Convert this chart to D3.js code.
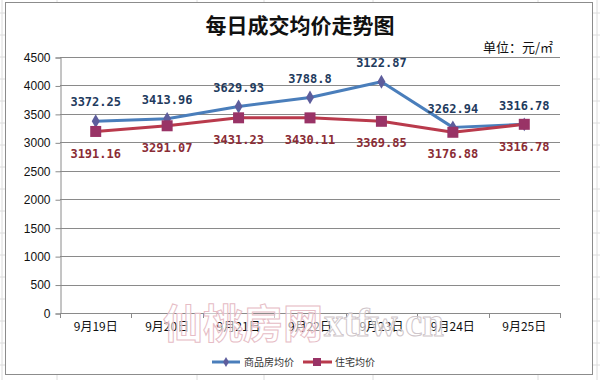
<!DOCTYPE html>
<html><head><meta charset="utf-8">
<script src="https://cdn.jsdelivr.net/npm/d3@7/dist/d3.min.js"></script>
<style>html,body{margin:0;padding:0;background:#fff;}svg{display:block;}</style>
</head><body>
<svg id="chart" width="600" height="380"></svg>
<script>
// ---- data ----
const categories = ["9月19日","9月20日","9月21日","9月22日","9月23日","9月24日","9月25日"];
const seriesNames = ["商品房均价","住宅均价"];
const commercialValues = [3372.25, 3413.96, 3629.93, 3788.8, 4065, 3262.94, 3316.78];
const commercialLabels = ["3372.25","3413.96","3629.93","3788.8","3122.87","3262.94","3316.78"];
const residentialValues = [3191.16, 3291.07, 3431.23, 3430.11, 3369.85, 3176.88, 3316.78];
const residentialLabels = ["3191.16","3291.07","3431.23","3430.11","3369.85","3176.88","3316.78"];
const yTicks = [0,500,1000,1500,2000,2500,3000,3500,4000,4500];
const titleText = "每日成交均价走势图";
const unitText = "单位：元/㎡";

// ---- drawing ----
const svg = d3.select("#chart");
const W = 600, H = 380;

// spreadsheet cell grid behind chart
const bg = svg.append("g");
d3.range(13, H, 22).forEach(yy => bg.append("line").attr("x1",0).attr("x2",W).attr("y1",yy).attr("y2",yy).attr("stroke","#dcdcdc"));
[2,57,197,264,373,538,597].forEach(xx => bg.append("line").attr("x1",xx).attr("x2",xx).attr("y1",0).attr("y2",H).attr("stroke","#dcdcdc"));

// chart frame
svg.append("rect").attr("x",5.5).attr("y",2.5).attr("width",587).attr("height",372)
  .attr("fill","#fff").attr("stroke","#8c8c8c");

const x = d3.scaleBand().domain(categories).range([60,560]);
const y = d3.scaleLinear().domain([0,4500]).range([313,57]);
const cx = c => x(c) + x.bandwidth()/2;

// gridlines
svg.append("g").selectAll("line").data(yTicks.filter(t=>t>0)).join("line")
  .attr("x1",60).attr("x2",560).attr("y1",d=>Math.round(y(d))+0.5).attr("y2",d=>Math.round(y(d))+0.5)
  .attr("stroke","#8a8a8a");

// y axis
const yAxis = svg.append("g").attr("transform","translate(60.5,0.5)")
  .call(d3.axisLeft(y).tickValues(yTicks).tickSize(5).tickPadding(5).tickFormat(d3.format("d")));
yAxis.select(".domain").attr("stroke","#8a8a8a");
yAxis.selectAll(".tick line").attr("stroke","#8a8a8a");
yAxis.selectAll("text").attr("font-family","Liberation Sans, Arial, sans-serif").attr("font-size","12px").attr("fill","#111");

// x axis
const xAxis = svg.append("g").attr("transform","translate(0,313.5)")
  .call(d3.axisBottom(x).tickSize(0).tickPadding(9));
xAxis.select(".domain").attr("stroke","#8a8a8a").attr("d","M60,0H560");
xAxis.selectAll("text").attr("font-family","'Noto Sans CJK SC', sans-serif").attr("font-size","12px").attr("fill","#111");
const bounds = categories.map(c => x(c)).concat([x(categories[categories.length-1]) + x.bandwidth()]);
svg.append("g").selectAll("line").data(bounds).join("line")
  .attr("x1",d=>Math.round(d)+0.5).attr("x2",d=>Math.round(d)+0.5).attr("y1",313).attr("y2",318)
  .attr("stroke","#8a8a8a");

const blue = "#4a7ebb", blueMarker = "#5d5d9c";
const red = "#b93a4c", redMarker = "#993366";

const line = d3.line().x((d,i)=>cx(categories[i])).y(d=>y(d));
svg.append("path").datum(commercialValues).attr("d",line).attr("fill","none")
  .attr("stroke",blue).attr("stroke-width",3).attr("stroke-linejoin","round");
svg.append("path").datum(residentialValues).attr("d",line).attr("fill","none")
  .attr("stroke",red).attr("stroke-width",3).attr("stroke-linejoin","round");

const diamond = d3.symbol().type(d3.symbolDiamond).size(55);
svg.append("g").selectAll("path").data(commercialValues).join("path")
  .attr("d",diamond).attr("transform",(d,i)=>`translate(${cx(categories[i])},${y(d)})`)
  .attr("fill",blueMarker);
svg.append("g").selectAll("rect").data(residentialValues).join("rect")
  .attr("x",(d,i)=>cx(categories[i])-5.5).attr("y",d=>y(d)-5.5).attr("width",11).attr("height",11)
  .attr("fill",redMarker);

// data labels
const lblFont = "'DejaVu Sans Mono', monospace";
svg.append("g").selectAll("text").data(commercialValues).join("text")
  .attr("x",(d,i)=>cx(categories[i])).attr("y",d=>y(d)-19).attr("dy","0.35em")
  .attr("text-anchor","middle").attr("font-family",lblFont).attr("font-weight","bold")
  .attr("font-size","12px").attr("fill","#1f3b5e").text((d,i)=>commercialLabels[i]);
svg.append("g").selectAll("text").data(residentialValues).join("text")
  .attr("x",(d,i)=>cx(categories[i])).attr("y",d=>y(d)+22).attr("dy","0.35em")
  .attr("text-anchor","middle").attr("font-family",lblFont).attr("font-weight","bold")
  .attr("font-size","12px").attr("fill","#8a2c35").text((d,i)=>residentialLabels[i]);

// title & unit
svg.append("text").attr("x",300).attr("y",26).attr("dy","0.35em").attr("text-anchor","middle")
  .attr("font-family","'Noto Sans CJK SC', sans-serif").attr("font-weight","bold").attr("font-size","21px")
  .attr("fill","#111").text(titleText);
svg.append("text").attr("x",553).attr("y",47).attr("dy","0.35em").attr("text-anchor","end")
  .attr("font-family","'Noto Sans CJK SC', sans-serif").attr("font-size","13px")
  .attr("fill","#111").text(unitText);

// watermark (semi-transparent, over the axis labels as in the reference)
svg.append("text").attr("x",163).attr("y",338).attr("textLength",160).attr("lengthAdjust","spacingAndGlyphs")
  .attr("font-family","'Noto Sans CJK SC', sans-serif").attr("font-weight","bold").attr("font-size","40px")
  .attr("fill","#fff").attr("fill-opacity",0.55).attr("stroke","#e6bcc5").attr("stroke-width",1)
  .text("仙桃房网");
svg.append("text").attr("x",324).attr("y",336).attr("textLength",120).attr("lengthAdjust","spacingAndGlyphs")
  .attr("font-family","'Liberation Serif', serif").attr("font-weight","bold").attr("font-size","40px")
  .attr("fill","#fff").attr("fill-opacity",0.55).attr("stroke","#cfc6ca").attr("stroke-width",1)
  .text("xtfw.cn");

// legend
const lg = svg.append("g").attr("transform","translate(0,362)");
lg.append("line").attr("x1",212).attr("x2",240).attr("y1",0).attr("y2",0).attr("stroke",blue).attr("stroke-width",3);
lg.append("path").attr("d",d3.symbol().type(d3.symbolDiamond).size(30)).attr("transform","translate(226,0)").attr("fill",blueMarker);
lg.append("text").attr("x",244).attr("y",0).attr("dy","0.35em").attr("font-family","'Noto Sans CJK SC', sans-serif")
  .attr("font-size","10px").attr("fill","#333").text(seriesNames[0]);
lg.append("line").attr("x1",303).attr("x2",332).attr("y1",0).attr("y2",0).attr("stroke",red).attr("stroke-width",3);
lg.append("rect").attr("x",313).attr("y",-4).attr("width",8).attr("height",8).attr("fill",redMarker);
lg.append("text").attr("x",335).attr("y",0).attr("dy","0.35em").attr("font-family","'Noto Sans CJK SC', sans-serif")
  .attr("font-size","10px").attr("fill","#333").text(seriesNames[1]);
</script>
</body></html>
